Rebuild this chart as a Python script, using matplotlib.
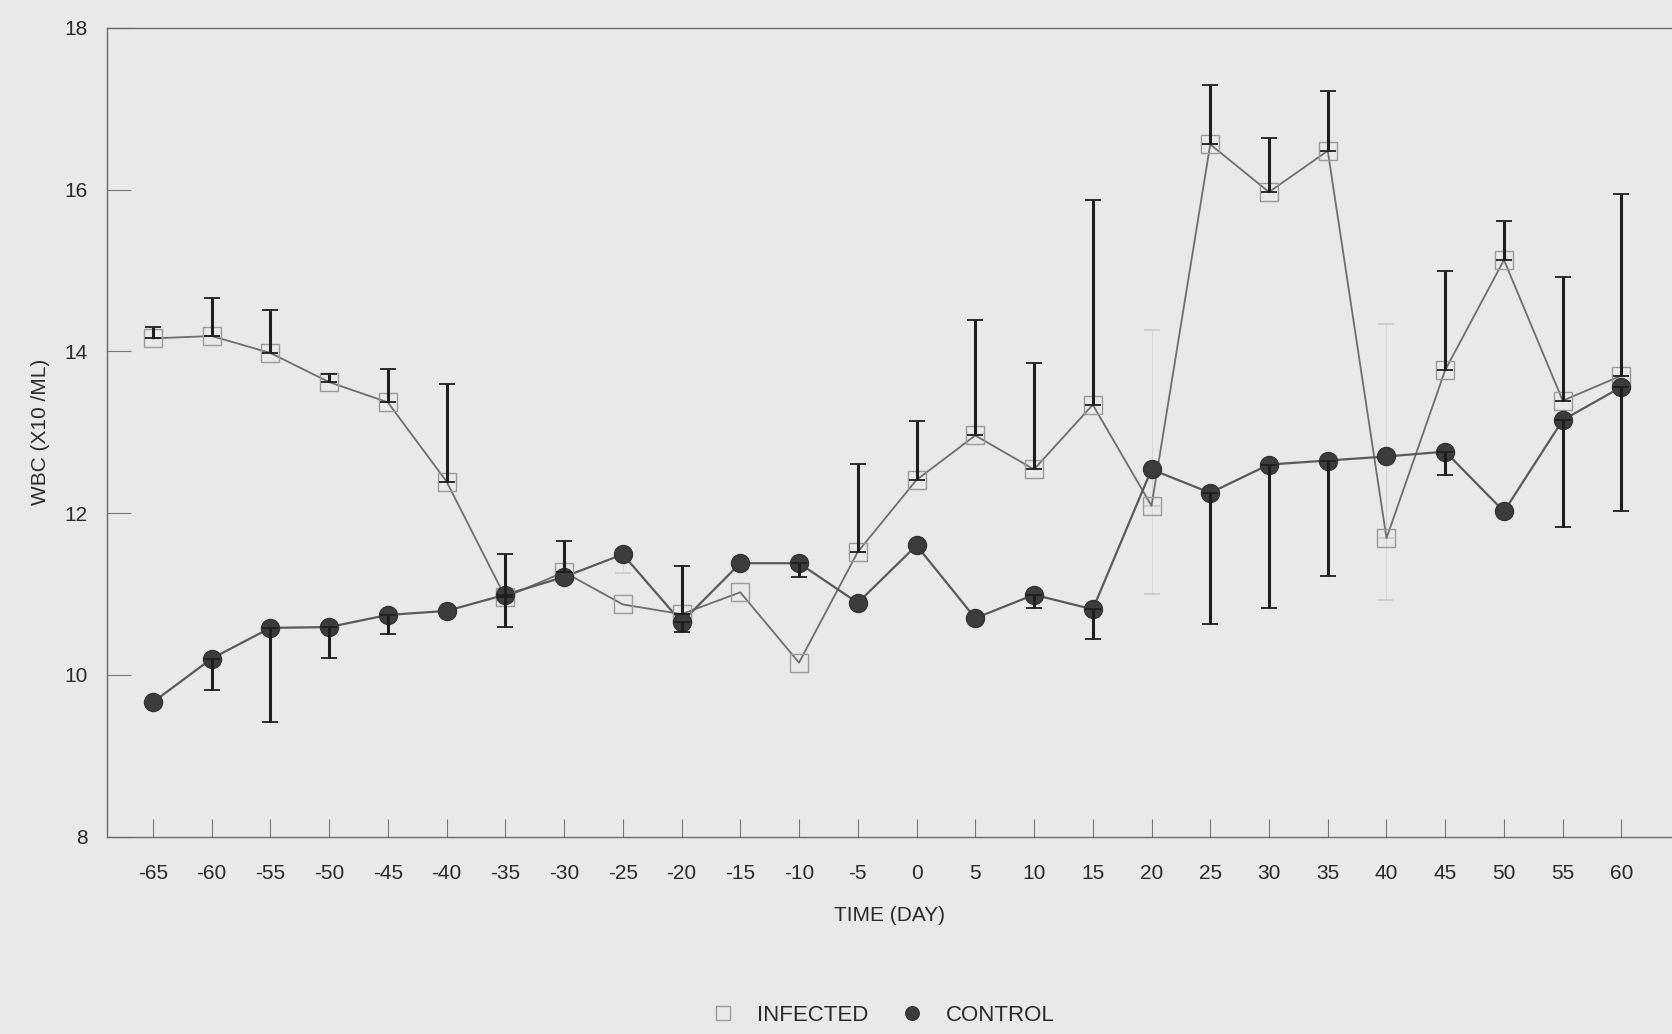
import numpy as np
import matplotlib.pyplot as plt

plt.rcParams['font.family'] = ['Liberation Sans', 'DejaVu Sans']
plt.rcParams['axes.unicode_minus'] = False

days = np.arange(-65, 61, 5)

infected = np.array([14.16, 14.19, 13.98, 13.62, 13.37, 12.39, 10.96, 11.27, 10.87, 10.75,
                     11.02, 10.15, 11.52, 12.41, 12.96, 12.54, 13.34, 12.09, 16.56, 15.97,
                     16.48, 11.69, 13.77, 15.13, 13.39, 13.70])
infected_err = np.array([0.14, 0.47, 0.53, 0.10, 0.41, 1.21, 0.53, 0.39, 0.0, 0.59,
                         0.0, 0.0, 1.09, 0.73, 1.43, 1.31, 2.53, 2.17, 0.74, 0.67,
                         0.74, 2.65, 1.22, 0.48, 1.53, 2.24])

control = np.array([9.66, 10.20, 10.58, 10.59, 10.74, 10.79, 10.99, 11.21, 11.49, 10.65,
                    11.38, 11.38, 10.89, 11.60, 10.70, 10.99, 10.81, 12.54, 12.25, 12.60,
                    12.65, 12.70, 12.76, 12.02, 13.15, 13.56])
control_err = np.array([0.0, 0.39, 1.17, 0.38, 0.24, 0.0, 0.40, 0.0, 0.23, 0.12,
                        0.0, 0.17, 0.0, 0.0, 0.0, 0.17, 0.37, 1.54, 1.62, 1.77,
                        1.43, 1.78, 0.29, 0.0, 1.32, 1.53])

# days where the scanned bar line has faded, only the caps are left
faint_days = [-25, 20, 40]

bg = '#e9e9e9'
fig = plt.figure(figsize=(16.72, 10.34), dpi=100, facecolor=bg)
ax = fig.add_axes([0.064, 0.191, 0.936, 0.782], facecolor=bg)

ax.plot(days, infected, color='#6e6e6e', lw=1.3, zorder=2)
ax.plot(days, infected, ls='none', marker='s', ms=13, mfc='none', mec='#9a9a9a',
        mew=1.0, zorder=3, label='INFECTED')
ax.plot(days, control, color='#5a5a5a', lw=1.6, zorder=2)
ax.plot(days, control, ls='none', marker='o', ms=13, mfc='#3c3c3c', mec='#333333',
        mew=1.0, zorder=4, label='CONTROL')

faint = np.isin(days, faint_days)

m = (infected_err > 0) & ~faint
ax.errorbar(days[m], infected[m], yerr=[np.zeros(m.sum()), infected_err[m]], fmt='none',
            ecolor='#1e1e1e', elinewidth=2.2, capsize=6, capthick=1.3, zorder=5)
m = (control_err > 0) & ~faint
ax.errorbar(days[m], control[m], yerr=[control_err[m], np.zeros(m.sum())], fmt='none',
            ecolor='#1e1e1e', elinewidth=2.2, capsize=6, capthick=1.3, zorder=5)

m = (infected_err > 0) & faint
ax.errorbar(days[m], infected[m], yerr=[np.zeros(m.sum()), infected_err[m]], fmt='none',
            ecolor='#cccccc', elinewidth=0.4, capsize=6, capthick=1.3, zorder=1)
m = (control_err > 0) & faint
ax.errorbar(days[m], control[m], yerr=[control_err[m], np.zeros(m.sum())], fmt='none',
            ecolor='#cccccc', elinewidth=0.4, capsize=6, capthick=1.3, zorder=1)

ax.set_xlim(-68.9, 64.3)
ax.set_ylim(8, 18)
ax.set_xticks(days)
ax.set_yticks(np.arange(8, 19, 2))
ax.tick_params(axis='x', direction='in', length=13, width=0.8, colors='#777777',
               labelcolor='#2a2a2a', labelsize=15, pad=20)
ax.tick_params(axis='y', direction='in', length=17, width=0.8, colors='#777777',
               labelcolor='#2a2a2a', labelsize=15, pad=14)
for side in ['left', 'bottom', 'top']:
    ax.spines[side].set_color('#6a6a6a')
    ax.spines[side].set_linewidth(1.0)
ax.spines['right'].set_visible(False)

ax.set_xlabel('TIME (DAY)', fontsize=15, color='#2a2a2a', labelpad=16)
ax.set_ylabel('WBC (X10 /ML)', fontsize=15, color='#2a2a2a', labelpad=10)

fig.legend(loc='center', bbox_to_anchor=(0.525, 0.018), ncol=2, frameon=False,
           fontsize=16, handletextpad=0.5, columnspacing=1.0, markerscale=0.75,
           labelcolor='#2a2a2a')

fig.savefig('out.png', dpi=100, facecolor=bg)
